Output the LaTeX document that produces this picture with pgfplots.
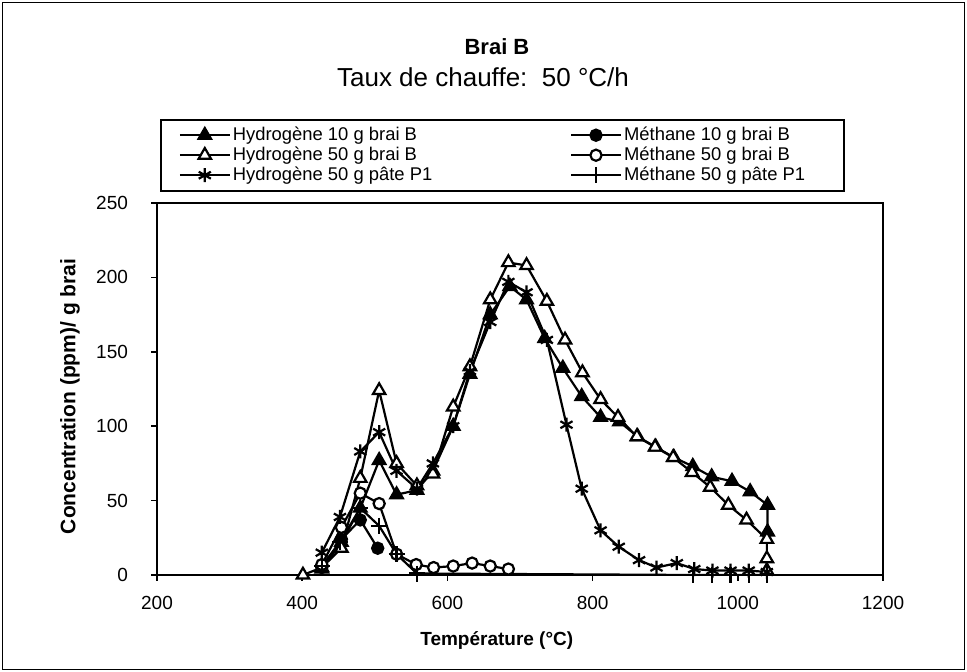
\documentclass[border=0pt]{standalone}
\usepackage{fontspec}
\setmainfont{Liberation Sans}
\usepackage{pgfplots}
\usepackage{pgfplotstable}
\pgfplotsset{compat=1.18}

\pgfplotstableread{
T v
427 4
454 22
480 45
506 77
530 54
558 57
580 70
608 100
631 135
659 175
686 194
709 185
734 159
759 139
785 120
811 106
837 103
862 93
887 86
912 79
938 73
964 66
992 63
1017 56
1041 47
1041 29
}\hten

\pgfplotstableread{
T v
427 5
454 24
480 37
504 18
}\mten

\pgfplotstableread{
T v
401 0
427 5
454 18
480 65
506 124
530 75
558 60
580 68
608 113
631 140
659 185
684 210
709 208
737 184
762 158
786 136
811 118
835 106
861 93
886 86
911 79
937 69
962 59
987 47
1012 37
1040 24
1040 11
1040 3
}\hfifty

\pgfplotstableread{
T v
427 7
454 32
480 55
506 48
530 14
557 7
581 5
608 6
634 8
659 6
684 4
}\mfifty

\pgfplotstableread{
T v
427 15
452 39
480 83
506 96
530 70
558 58
580 75
608 100
631 137
659 170
684 197
709 190
737 158
764 101
785 58
811 30
836 19
864 10
888 5
916 8
940 4
965 3
990 3
1015 3
1040 2
}\hpate

\pgfplotstableread{
T v
427 6
452 22
480 45
506 33
530 14
558 1
938 0
964 0
990 0
1015 0
1040 0
}\mpate

\begin{document}
\begin{tikzpicture}
\useasboundingbox (0pt,0pt) rectangle (483.5pt,336pt);
\draw[line width=0.8pt] (1.2pt,1.2pt) rectangle (482.3pt,334.8pt);
\node[font=\bfseries\fontsize{11}{12}\selectfont] at (248.5pt,312.5pt) {Brai B};
\node[font=\fontsize{13}{15}\selectfont] at (241.5pt,297.5pt) {Taux de chauffe:\ \ 50 °C/h};
\begin{axis}[
  at={(78.5pt,48.5pt)}, anchor=south west,
  scale only axis, width=363pt, height=186pt,
  xmin=200, xmax=1200, ymin=0, ymax=250,
  xtick={200,400,...,1200}, ytick={0,50,...,250},
  tick pos=left, tick align=outside, major tick length=3pt,
  tick style={line width=0.8pt, black},
  axis line style={line width=1.2pt},
  /pgf/number format/assume math mode=true,
  /pgf/number format/1000 sep={},
  tick label style={font=\fontsize{9.5}{10}\selectfont},
  yticklabel style={xshift=-8pt},
  xticklabel style={yshift=-4pt},
  xlabel={Température (°C)},
  ylabel={Concentration (ppm)/ g brai},
  every axis x label/.style={at={(axis description cs:0.468,-0.175)}, anchor=center, font=\bfseries\fontsize{9.5}{10}\selectfont},
  every axis y label/.style={at={(axis description cs:-0.12,0.48)}, rotate=90, anchor=center, font=\bfseries\fontsize{10.5}{11}\selectfont},
  every axis plot/.append style={line width=1.1pt},
  legend columns=2,
  legend style={at={(0.004,1.226)}, anchor=north west, draw=black, line width=0.8pt,
    inner xsep=9pt, inner ysep=2.75pt, font=\fontsize{9.2}{10}\selectfont,
    nodes={inner sep=1pt, text height=6.5pt, text depth=1.5pt},
    row sep=0pt, column sep=0pt},
  legend cell align=left,
  legend image code/.code={\draw[mark repeat=2,mark phase=2] plot coordinates {(0pt,0pt)(12.5pt,0pt)(25pt,0pt)};},
]
\addplot[black, mark=triangle*, mark size=3.6pt] table[x=T,y=v] {\hten};
\addlegendentry{\makebox[167.5pt][l]{Hydrogène 10 g brai B}}
\addplot[black, mark=*, mark size=2.8pt] table[x=T,y=v] {\mten};
\addlegendentry{\makebox[100pt][l]{Méthane 10 g brai B}}
\addplot[black, mark=triangle*, mark size=3.6pt, mark options={fill=white}] table[x=T,y=v] {\hfifty};
\addlegendentry{\makebox[167.5pt][l]{Hydrogène 50 g brai B}}
\addplot[black, mark=*, mark size=2.8pt, mark options={fill=white}] table[x=T,y=v] {\mfifty};
\addlegendentry{\makebox[100pt][l]{Méthane 50 g brai B}}
\addplot[black, mark=asterisk, mark size=3.5pt] table[x=T,y=v] {\hpate};
\addlegendentry{\makebox[167.5pt][l]{Hydrogène 50 g pâte P1}}
\addplot[black, mark=+, mark size=4pt] table[x=T,y=v] {\mpate};
\addlegendentry{\makebox[100pt][l]{Méthane 50 g pâte P1}}
\end{axis}
\end{tikzpicture}
\end{document}
